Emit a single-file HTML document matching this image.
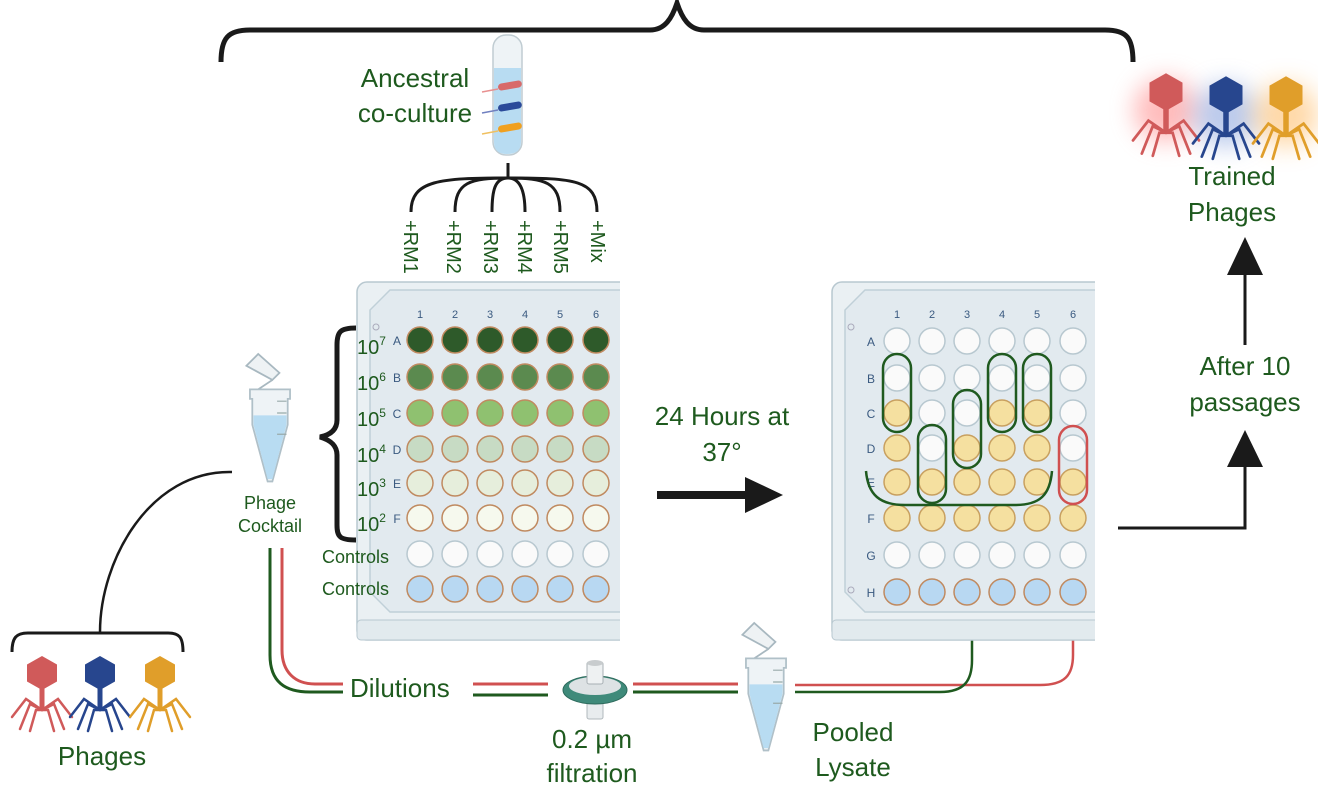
<!DOCTYPE html>
<html><head><meta charset="utf-8"><style>
html,body{margin:0;padding:0;background:#fff;}
svg{display:block;}
text{font-family:"Liberation Sans",sans-serif;fill:#1e5a1e;}
</style></head><body>
<svg width="1318" height="796" viewBox="0 0 1318 796" xmlns="http://www.w3.org/2000/svg">
<defs>
<g id="phage">
  <polygon points="0,-17 15,-8.5 15,8.5 0,17 -15,8.5 -15,-8.5" fill="currentColor"/>
  <rect x="-2.5" y="15" width="5" height="23" fill="currentColor"/>
  <g stroke="currentColor" stroke-width="2.5" fill="none" stroke-linecap="round">
    <polyline points="0,37 -16,26 -30,44"/>
    <polyline points="0,37 -12,31 -22,56"/>
    <polyline points="0,37 -6,37 -12,58"/>
    <polyline points="0,37 16,26 30,44"/>
    <polyline points="0,37 12,31 22,56"/>
    <polyline points="0,37 6,37 12,58"/>
  </g>
</g>
<filter id="blur" x="-50%" y="-50%" width="200%" height="200%"><feGaussianBlur stdDeviation="12"/></filter>
<clipPath id="clipL"><rect x="340" y="270" width="280" height="380"/></clipPath>
<clipPath id="clipR"><rect x="820" y="270" width="275" height="380"/></clipPath>
<g id="tube">
  <path d="M-20,-40 L-10,-50 L8,-34 L2,-28 Z" fill="#eef2f4" stroke="#a8b8c0" stroke-width="1.5"/>
  <path d="M2,-28 L-10,-20" stroke="#a8b8c0" stroke-width="1.5"/>
  <path d="M-17,-20 L17,-20 L17,-12 L15,-12 L15,10 L2,58 L-2,58 L-15,10 L-15,-12 L-17,-12 Z" fill="#eef3f6" stroke="#b0c0c8" stroke-width="1.5"/>
  <path d="M-14,2 L14,2 L14,10 L2,56 L-2,56 L-14,10 Z" fill="#b8dcf2"/>
  <path d="M6,-10 L14,-10 M6,0 L14,0 M6,18 L14,18" stroke="#9aa" stroke-width="1"/>
</g>
</defs>

<path d="M221,62 C221,38 228,30 250,30 L650,30 C665,30 672,18 677,3 C682,18 689,30 704,30 L1105,30 C1127,30 1133,38 1133,62" fill="none" stroke="#1a1a1a" stroke-width="5"/>

<rect x="493" y="35" width="29" height="120" rx="13" fill="#eef3f6" stroke="#c0ccd2" stroke-width="1.5"/>
<path d="M494,68 L521,68 L521,142 Q521,154 507,154 Q494,154 494,142 Z" fill="#b8dcf2"/>
<path d="M482,92 L498,89" stroke="#e89090" stroke-width="1.5"/><rect x="498" y="82" width="24" height="7" rx="3.5" fill="#d86a6a" transform="rotate(-10 510 86)"/>
<path d="M482,113 L498,110" stroke="#7080c0" stroke-width="1.5"/><rect x="498" y="103" width="24" height="7" rx="3.5" fill="#2a4a9a" transform="rotate(-10 510 107)"/>
<path d="M482,134 L498,131" stroke="#f0c060" stroke-width="1.5"/><rect x="498" y="124" width="24" height="7" rx="3.5" fill="#f0a020" transform="rotate(-10 510 128)"/>
<text x="415" y="87" font-size="26" text-anchor="middle">Ancestral</text>
<text x="415" y="122" font-size="26" text-anchor="middle">co-culture</text>

<g fill="none" stroke="#1a1a1a" stroke-width="3">
<path d="M508,163 L508,178"/>
<path d="M508,178 C440,178 411,180 411,212"/>
<path d="M508,178 C470,178 455,182 455,212"/>
<path d="M508,178 C495,178 492,190 492,212"/>
<path d="M508,178 C520,178 525,190 525,212"/>
<path d="M508,178 C545,178 560,182 560,212"/>
<path d="M508,178 C575,178 597,180 597,212"/>
</g>
<g font-size="20">
<text transform="translate(404,220) rotate(90)">+RM1</text>
<text transform="translate(447,220) rotate(90)">+RM2</text>
<text transform="translate(484,220) rotate(90)">+RM3</text>
<text transform="translate(518,220) rotate(90)">+RM4</text>
<text transform="translate(554,220) rotate(90)">+RM5</text>
<text transform="translate(591,220) rotate(90)">+Mix</text>
</g>

<g clip-path="url(#clipL)">
<rect x="357" y="282" width="300" height="358" rx="10" fill="#eaf0f3" stroke="#b8c8d0" stroke-width="1.5"/>
<rect x="357" y="620" width="300" height="20" rx="4" fill="#e2eaee" stroke="#b8c8d0" stroke-width="1"/>
<polygon points="390,290 660,290 660,612 390,612 370,592 370,310" fill="#e2eaef" stroke="#c0d0d8" stroke-width="1.5"/>
<circle cx="376" cy="327" r="3" fill="none" stroke="#aab"/>
<g font-size="11" text-anchor="middle">
<text x="420" y="318" style="fill:#3a5a80">1</text><text x="455" y="318" style="fill:#3a5a80">2</text><text x="490" y="318" style="fill:#3a5a80">3</text><text x="525" y="318" style="fill:#3a5a80">4</text><text x="560" y="318" style="fill:#3a5a80">5</text><text x="596" y="318" style="fill:#3a5a80">6</text>
</g>
<g font-size="12" text-anchor="middle">
<text x="397" y="345" style="fill:#3a5a80">A</text><text x="397" y="382" style="fill:#3a5a80">B</text><text x="397" y="418" style="fill:#3a5a80">C</text><text x="397" y="454" style="fill:#3a5a80">D</text><text x="397" y="488" style="fill:#3a5a80">E</text><text x="397" y="523" style="fill:#3a5a80">F</text>
</g>
<g stroke="#c08a60" stroke-width="1.5">
<g fill="#2e5a2a"><circle cx="420" cy="340" r="13"/><circle cx="455" cy="340" r="13"/><circle cx="490" cy="340" r="13"/><circle cx="525" cy="340" r="13"/><circle cx="560" cy="340" r="13"/><circle cx="596" cy="340" r="13"/></g>
<g fill="#5b8a4f"><circle cx="420" cy="377" r="13"/><circle cx="455" cy="377" r="13"/><circle cx="490" cy="377" r="13"/><circle cx="525" cy="377" r="13"/><circle cx="560" cy="377" r="13"/><circle cx="596" cy="377" r="13"/></g>
<g fill="#8fc170"><circle cx="420" cy="413" r="13"/><circle cx="455" cy="413" r="13"/><circle cx="490" cy="413" r="13"/><circle cx="525" cy="413" r="13"/><circle cx="560" cy="413" r="13"/><circle cx="596" cy="413" r="13"/></g>
<g fill="#c7dbc4"><circle cx="420" cy="449" r="13"/><circle cx="455" cy="449" r="13"/><circle cx="490" cy="449" r="13"/><circle cx="525" cy="449" r="13"/><circle cx="560" cy="449" r="13"/><circle cx="596" cy="449" r="13"/></g>
<g fill="#e6eedc"><circle cx="420" cy="483" r="13"/><circle cx="455" cy="483" r="13"/><circle cx="490" cy="483" r="13"/><circle cx="525" cy="483" r="13"/><circle cx="560" cy="483" r="13"/><circle cx="596" cy="483" r="13"/></g>
<g fill="#f6f9ee"><circle cx="420" cy="518" r="13"/><circle cx="455" cy="518" r="13"/><circle cx="490" cy="518" r="13"/><circle cx="525" cy="518" r="13"/><circle cx="560" cy="518" r="13"/><circle cx="596" cy="518" r="13"/></g>
<g fill="#fafafa" stroke="#b8c8d0"><circle cx="420" cy="554" r="13"/><circle cx="455" cy="554" r="13"/><circle cx="490" cy="554" r="13"/><circle cx="525" cy="554" r="13"/><circle cx="560" cy="554" r="13"/><circle cx="596" cy="554" r="13"/></g>
<g fill="#b8d8f2"><circle cx="420" cy="589" r="13"/><circle cx="455" cy="589" r="13"/><circle cx="490" cy="589" r="13"/><circle cx="525" cy="589" r="13"/><circle cx="560" cy="589" r="13"/><circle cx="596" cy="589" r="13"/></g>
</g>
</g>
<g font-size="20">
<text x="357" y="354">10<tspan font-size="12" dy="-9">7</tspan></text>
<text x="357" y="390">10<tspan font-size="12" dy="-9">6</tspan></text>
<text x="357" y="426">10<tspan font-size="12" dy="-9">5</tspan></text>
<text x="357" y="462">10<tspan font-size="12" dy="-9">4</tspan></text>
<text x="357" y="496">10<tspan font-size="12" dy="-9">3</tspan></text>
<text x="357" y="531">10<tspan font-size="12" dy="-9">2</tspan></text>
</g>
<text x="322" y="563" font-size="18">Controls</text>
<text x="322" y="595" font-size="18">Controls</text>
<path d="M356,328 C340,328 337,332 337,345 L337,420 C337,430 330,435 320,437 C330,440 337,445 337,455 L337,525 C337,537 340,540 356,540" fill="none" stroke="#1a1a1a" stroke-width="5"/>

<use href="#tube" transform="translate(270,413) scale(1.18)"/>
<text x="270" y="509" font-size="18" text-anchor="middle">Phage</text>
<text x="270" y="532" font-size="18" text-anchor="middle">Cocktail</text>
<path d="M232,472 C150,470 100,560 100,632" fill="none" stroke="#1a1a1a" stroke-width="2.5"/>

<path d="M12,652 C12,638 16,633 28,633 L168,633 C180,633 183,638 183,652" fill="none" stroke="#1a1a1a" stroke-width="3"/>
<use href="#phage" transform="translate(42,673)" color="#d05a5a"/>
<use href="#phage" transform="translate(100,673)" color="#27468e"/>
<use href="#phage" transform="translate(160,673)" color="#e09e2a"/>
<text x="102" y="765" font-size="26" text-anchor="middle">Phages</text>

<g fill="none" stroke-width="3">
<path d="M270,548 L270,655 C270,682 285,692 310,692 L343,692" stroke="#1f5a1f"/>
<path d="M282,548 L282,650 C282,672 295,684 315,684 L343,684" stroke="#d05050"/>
<path d="M473,684 L548,684 M633,684 L738,684" stroke="#d05050"/>
<path d="M473,695 L548,695 M633,692 L738,692" stroke="#1f5a1f"/>
<path d="M795,685 L1040,685 C1065,685 1073,675 1073,655 L1073,503" stroke="#d05050" stroke-width="2.5"/>
<path d="M795,692 L940,692 C965,692 972,680 972,660 L972,505" stroke="#1f5a1f" stroke-width="2.5"/>
</g>
<text x="350" y="697" font-size="26">Dilutions</text>

<rect x="587" y="697" width="16" height="22" rx="2" fill="#e8ecee" stroke="#b0b8bc"/>
<ellipse cx="595" cy="690" rx="32" ry="14" fill="#3f8a7a" stroke="#2d6a5c"/>
<ellipse cx="595" cy="686" rx="26" ry="9" fill="#dde2e4"/>
<rect x="587" y="662" width="16" height="22" rx="2" fill="#eef1f2" stroke="#a8b0b4"/>
<ellipse cx="595" cy="663" rx="8" ry="3" fill="#c8ccce"/>
<text x="592" y="748" font-size="26" text-anchor="middle">0.2 µm</text>
<text x="592" y="782" font-size="26" text-anchor="middle">filtration</text>

<use href="#tube" transform="translate(766,682) scale(1.18)"/>
<text x="853" y="741" font-size="26" text-anchor="middle">Pooled</text>
<text x="853" y="776" font-size="26" text-anchor="middle">Lysate</text>

<text x="722" y="425" font-size="26" text-anchor="middle">24 Hours at</text>
<text x="722" y="461" font-size="26" text-anchor="middle">37°</text>
<rect x="657" y="491" width="90" height="8" fill="#1a1a1a"/>
<polygon points="745,477 783,495 745,513" fill="#1a1a1a"/>

<g clip-path="url(#clipR)">
<rect x="832" y="282" width="300" height="358" rx="10" fill="#eaf0f3" stroke="#b8c8d0" stroke-width="1.5"/>
<rect x="832" y="620" width="300" height="20" rx="4" fill="#e2eaee" stroke="#b8c8d0" stroke-width="1"/>
<polygon points="865,290 1135,290 1135,612 865,612 845,592 845,310" fill="#e2eaef" stroke="#c0d0d8" stroke-width="1.5"/>
<circle cx="851" cy="327" r="3" fill="none" stroke="#aab"/><circle cx="851" cy="590" r="3" fill="none" stroke="#aab"/>
<g font-size="11" text-anchor="middle">
<text x="897" y="318" style="fill:#3a5a80">1</text><text x="932" y="318" style="fill:#3a5a80">2</text><text x="967" y="318" style="fill:#3a5a80">3</text><text x="1002" y="318" style="fill:#3a5a80">4</text><text x="1037" y="318" style="fill:#3a5a80">5</text><text x="1073" y="318" style="fill:#3a5a80">6</text>
</g>
<g font-size="12" text-anchor="middle">
<text x="871" y="346" style="fill:#3a5a80">A</text><text x="871" y="383" style="fill:#3a5a80">B</text><text x="871" y="418" style="fill:#3a5a80">C</text><text x="871" y="453" style="fill:#3a5a80">D</text><text x="871" y="487" style="fill:#3a5a80">E</text><text x="871" y="523" style="fill:#3a5a80">F</text><text x="871" y="560" style="fill:#3a5a80">G</text><text x="871" y="597" style="fill:#3a5a80">H</text>
</g>
<g stroke-width="1.5">
<g fill="#fafafa" stroke="#b8c8d0">
<circle cx="897" cy="341" r="13"/><circle cx="932" cy="341" r="13"/><circle cx="967" cy="341" r="13"/><circle cx="1002" cy="341" r="13"/><circle cx="1037" cy="341" r="13"/><circle cx="1073" cy="341" r="13"/>
<circle cx="897" cy="378" r="13"/><circle cx="932" cy="378" r="13"/><circle cx="967" cy="378" r="13"/><circle cx="1002" cy="378" r="13"/><circle cx="1037" cy="378" r="13"/><circle cx="1073" cy="378" r="13"/>
<circle cx="932" cy="413" r="13"/><circle cx="967" cy="413" r="13"/><circle cx="1073" cy="413" r="13"/>
<circle cx="932" cy="448" r="13"/><circle cx="1073" cy="448" r="13"/>
<circle cx="897" cy="555" r="13"/><circle cx="932" cy="555" r="13"/><circle cx="967" cy="555" r="13"/><circle cx="1002" cy="555" r="13"/><circle cx="1037" cy="555" r="13"/><circle cx="1073" cy="555" r="13"/>
</g>
<g fill="#f5e0a0" stroke="#c8a060">
<circle cx="897" cy="413" r="13"/><circle cx="1002" cy="413" r="13"/><circle cx="1037" cy="413" r="13"/>
<circle cx="897" cy="448" r="13"/><circle cx="967" cy="448" r="13"/><circle cx="1002" cy="448" r="13"/><circle cx="1037" cy="448" r="13"/>
<circle cx="897" cy="482" r="13"/><circle cx="932" cy="482" r="13"/><circle cx="967" cy="482" r="13"/><circle cx="1002" cy="482" r="13"/><circle cx="1037" cy="482" r="13"/><circle cx="1073" cy="482" r="13"/>
<circle cx="897" cy="518" r="13"/><circle cx="932" cy="518" r="13"/><circle cx="967" cy="518" r="13"/><circle cx="1002" cy="518" r="13"/><circle cx="1037" cy="518" r="13"/><circle cx="1073" cy="518" r="13"/>
</g>
<g fill="#b8d8f2" stroke="#c08a60">
<circle cx="897" cy="592" r="13"/><circle cx="932" cy="592" r="13"/><circle cx="967" cy="592" r="13"/><circle cx="1002" cy="592" r="13"/><circle cx="1037" cy="592" r="13"/><circle cx="1073" cy="592" r="13"/>
</g>
</g>
</g>
<g fill="none" stroke-width="2.5">
<rect x="883" y="354" width="28" height="78" rx="14" stroke="#1f5a1f"/>
<rect x="988" y="354" width="28" height="78" rx="14" stroke="#1f5a1f"/>
<rect x="1023" y="354" width="28" height="78" rx="14" stroke="#1f5a1f"/>
<rect x="953" y="390" width="28" height="78" rx="14" stroke="#1f5a1f"/>
<rect x="918" y="425" width="28" height="78" rx="14" stroke="#1f5a1f"/>
<rect x="1059" y="426" width="28" height="78" rx="14" stroke="#d05050"/>
<path d="M866,471 C868,495 880,505 905,505 L1015,505 C1040,505 1050,495 1052,471" stroke="#1f5a1f"/>
</g>

<path d="M1118,528 L1245,528 L1245,465" fill="none" stroke="#1a1a1a" stroke-width="3"/>
<polygon points="1245,430 1227,467 1263,467" fill="#1a1a1a"/>
<text x="1245" y="375" font-size="26" text-anchor="middle">After 10</text>
<text x="1245" y="411" font-size="26" text-anchor="middle">passages</text>
<path d="M1245,345 L1245,270" stroke="#1a1a1a" stroke-width="3"/>
<polygon points="1245,237 1227,275 1263,275" fill="#1a1a1a"/>

<circle cx="1166" cy="110" r="32" fill="#ff9090" opacity="0.6" filter="url(#blur)"/>
<circle cx="1226" cy="115" r="32" fill="#8fa8e0" opacity="0.6" filter="url(#blur)"/>
<circle cx="1286" cy="115" r="32" fill="#ffc070" opacity="0.6" filter="url(#blur)"/>
<use href="#phage" transform="translate(1166,92) scale(1.1)" color="#d05a5a"/>
<use href="#phage" transform="translate(1226,95) scale(1.1)" color="#27468e"/>
<use href="#phage" transform="translate(1286,95) scale(1.1)" color="#e09e2a"/>
<text x="1232" y="185" font-size="26" text-anchor="middle">Trained</text>
<text x="1232" y="221" font-size="26" text-anchor="middle">Phages</text>
</svg>
</body></html>
